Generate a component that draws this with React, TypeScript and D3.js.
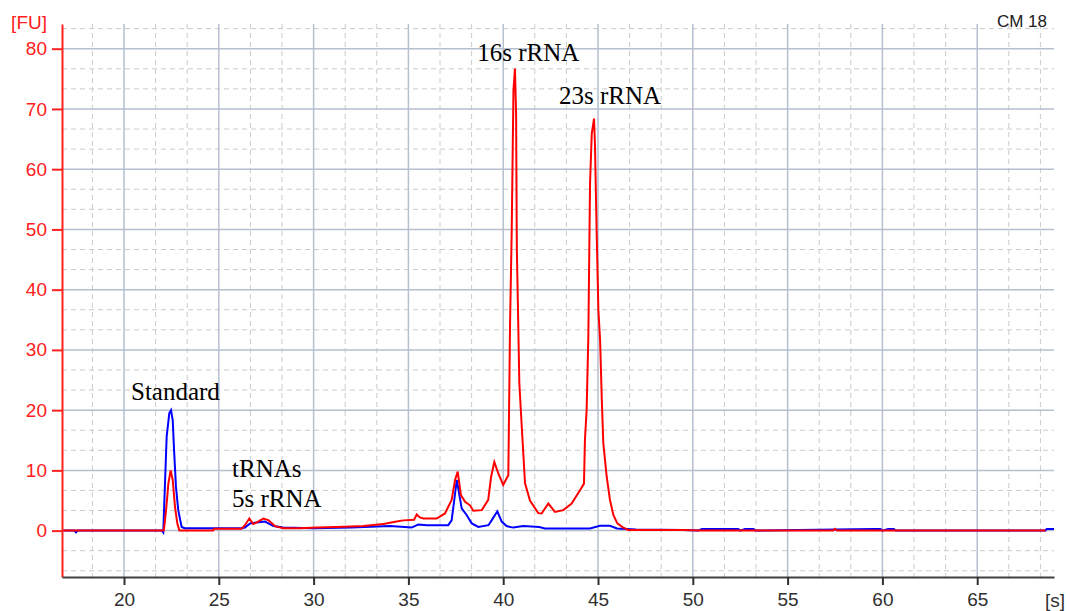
import { useEffect, useRef } from 'react';
import * as d3 from 'd3';

// electropherogram traces
const redTime = [
  16.8, 22.1, 22.22, 22.34, 22.46, 22.57, 22.69, 22.81, 22.92, 24.7, 24.75, 26.2,
  26.38, 26.61, 26.82, 26.91, 27.35, 27.61, 27.96, 28.4, 29.28, 30.16, 31.22, 32.62,
  33.68, 34.38, 34.73, 35.3, 35.44, 35.6, 35.79, 36.49, 36.93, 37.28, 37.46, 37.6,
  37.77, 37.99, 38.25, 38.42, 38.87, 39.21, 39.36, 39.53, 39.74, 40.0, 40.27, 40.36,
  40.45, 40.54, 40.62, 40.68, 40.72, 40.78, 40.85, 40.98, 41.15, 41.41, 41.85, 42.03,
  42.38, 42.73, 43.17, 43.61, 44.05, 44.26, 44.31, 44.4, 44.49, 44.58, 44.67, 44.79,
  44.84, 44.93, 45.02, 45.11, 45.2, 45.28, 45.46, 45.63, 45.81, 46.02, 46.33, 46.6,
  49.5, 50.3, 57.4, 57.5, 57.6, 68.6,
];
const redFU = [
  0, 0, 3.4, 7.8, 10, 8.4, 3.95, 1.2, 0, 0, 0.3, 0.3,
  0.9, 2.0, 1.1, 1.2, 2.0, 1.75, 0.75, 0.4, 0.4, 0.5, 0.6, 0.75,
  1.1, 1.5, 1.7, 1.8, 2.7, 2.2, 2.0, 2.0, 2.85, 5.1, 8.4, 9.8,
  5.9, 4.8, 4.2, 3.3, 3.4, 5.1, 8.9, 11.4, 9.5, 7.6, 9.2, 34,
  50, 73, 76.7, 69, 46.6, 36.6, 24.5, 17.2, 7.9, 5, 2.9, 2.85,
  4.5, 3.1, 3.4, 4.5, 6.7, 7.8, 15, 20, 32.2, 57.6, 65.9, 68.4,
  64, 49.3, 36.6, 31.6, 21.7, 14.5, 8.9, 5.1, 2.6, 1.2, 0.5, 0.1,
  0.1, 0, 0, 0.3, 0, 0,
];

const blueTime = [
  16.8, 17.4, 17.47, 17.55, 22.0, 22.07, 22.25, 22.39, 22.48, 22.57, 22.64, 22.74,
  22.86, 23.04, 23.2, 26.2, 26.38, 26.65, 27.0, 27.44, 27.88, 28.4, 30, 32,
  34.03, 35.17, 35.52, 35.97, 37.1, 37.28, 37.42, 37.55, 37.63, 37.81, 38.07, 38.34,
  38.69, 39.22, 39.39, 39.69, 39.92, 40.18, 40.53, 41.06, 41.9, 42.2, 44.58, 45.1,
  45.63, 46.0, 47.0, 49.5, 50.3, 50.47, 52.4, 52.5, 52.75, 53.2, 53.3, 59.49,
  59.9, 60.0, 60.3, 60.6, 60.7, 68.6, 68.66, 69.05,
];
const blueFU = [
  0, 0, -0.3, 0, 0, -0.3, 15.6, 19.5, 20, 18.3, 13.4, 7.3,
  3.4, 0.6, 0.4, 0.4, 0.5, 1.2, 1.35, 1.5, 0.75, 0.5, 0.4, 0.5,
  0.75, 0.5, 1.0, 0.9, 0.9, 1.7, 5.1, 8.4, 7.0, 3.7, 2.6, 1.2,
  0.6, 0.9, 1.7, 3.2, 1.5, 0.75, 0.5, 0.75, 0.6, 0.35, 0.35, 0.8,
  0.8, 0.35, 0.2, 0.1, 0, 0.25, 0.25, 0, 0.25, 0.25, 0, 0.25,
  0.25, 0, 0.25, 0.25, 0, 0, 0.25, 0.25,
];

const xTicks = [20, 25, 30, 35, 40, 45, 50, 55, 60, 65];
const yTicks = [0, 10, 20, 30, 40, 50, 60, 70, 80];

const peakLabels = [
  { text: 'Standard', t: 20.37, v: 21.6 },
  { text: '16s rRNA', t: 38.63, v: 77.9 },
  { text: '23s rRNA', t: 42.94, v: 70.9 },
  { text: 'tRNAs', t: 25.7, v: 8.9 },
  { text: '5s rRNA', t: 25.7, v: 3.9 },
];

export default function App() {
  const svgRef = useRef<SVGSVGElement>(null);

  useEffect(() => {
    if (!svgRef.current) return;
    const svg = d3.select(svgRef.current);
    svg.selectAll('*').remove();

    const margin = { top: 24, right: 16, bottom: 34, left: 62 };
    const W = 1070;
    const H = 611;
    const x = d3.scaleLinear().domain([16.73, 69.05]).range([margin.left, W - margin.right]);
    const y = d3.scaleLinear().domain([-7.7, 84.1]).range([H - margin.bottom, margin.top]);
    const [x0, x1] = x.range();
    const [y0, y1] = y.range();

    const grid = svg.append('g');

    // minor dashed grid every 5/3 s and 10/3 FU
    const minorX = d3.range(0, 60).map(i => 15 + i * 5 / 3)
      .filter(t => t > 16.8 && t < 69 && Math.abs(t / 5 - Math.round(t / 5)) > 0.01);
    const minorY = d3.range(-3, 26).map(i => i * 10 / 3)
      .filter(v => v > -7.7 && v < 84.1 && Math.abs(v / 10 - Math.round(v / 10)) > 0.01);

    grid.selectAll('.mx').data(minorX).join('line')
      .attr('x1', d => x(d)).attr('x2', d => x(d))
      .attr('y1', y1).attr('y2', y0)
      .attr('stroke', '#cbcbcb').attr('stroke-width', 1).attr('stroke-dasharray', '5,4');
    grid.selectAll('.my').data(minorY).join('line')
      .attr('x1', x0).attr('x2', x1)
      .attr('y1', d => y(d)).attr('y2', d => y(d))
      .attr('stroke', '#cbcbcb').attr('stroke-width', 1).attr('stroke-dasharray', '5,4');

    // major solid grid
    grid.selectAll('.gx').data(xTicks).join('line')
      .attr('x1', d => x(d)).attr('x2', d => x(d))
      .attr('y1', y1).attr('y2', y0)
      .attr('stroke', '#b6bfd0').attr('stroke-width', 1.5);
    grid.selectAll('.gy').data(yTicks).join('line')
      .attr('x1', x0).attr('x2', x1)
      .attr('y1', d => y(d)).attr('y2', d => y(d))
      .attr('stroke', '#b6bfd0').attr('stroke-width', 1.5);

    // traces
    const trace = (times: number[], vals: number[], color: string) => {
      const pts = times.map((t, i) => [x(t), y(vals[i])] as [number, number]);
      svg.append('path')
        .attr('d', d3.line()(pts))
        .attr('fill', 'none')
        .attr('stroke', color)
        .attr('stroke-width', 2)
        .attr('stroke-linejoin', 'miter');
    };
    trace(blueTime, blueFU, '#0000ff');
    trace(redTime, redFU, '#ff0000');

    // axes
    const yAxis = svg.append('g')
      .attr('transform', `translate(${x0},0)`)
      .call(d3.axisLeft(y).tickValues(yTicks).tickSize(10).tickSizeOuter(0).tickPadding(5));
    yAxis.select('.domain').attr('stroke', '#ff2020').attr('stroke-width', 2);
    yAxis.selectAll('.tick line').attr('stroke', '#ff2020').attr('stroke-width', 2);
    yAxis.selectAll('.tick text')
      .attr('fill', '#ff2020')
      .style('font-family', '"Liberation Sans", Arial, sans-serif')
      .style('font-size', '19px');

    const xAxis = svg.append('g')
      .attr('transform', `translate(0,${y0})`)
      .call(d3.axisBottom(x).tickValues(xTicks).tickSize(8).tickSizeOuter(0).tickPadding(8));
    xAxis.select('.domain').attr('stroke', '#404040').attr('stroke-width', 2);
    xAxis.selectAll('.tick line').attr('stroke', '#303030').attr('stroke-width', 2);
    xAxis.selectAll('.tick text')
      .attr('fill', '#303030')
      .style('font-family', '"Liberation Sans", Arial, sans-serif')
      .style('font-size', '19px');

    // unit labels
    svg.append('text')
      .attr('x', 47).attr('y', 29)
      .attr('text-anchor', 'end')
      .attr('fill', '#ff2020')
      .style('font-family', '"Liberation Sans", Arial, sans-serif')
      .style('font-size', '19px')
      .text('[FU]');
    svg.append('text')
      .attr('x', 1055).attr('y', 607)
      .attr('text-anchor', 'middle')
      .attr('fill', '#303030')
      .style('font-family', '"Liberation Sans", Arial, sans-serif')
      .style('font-size', '19px')
      .text('[s]');
    svg.append('text')
      .attr('x', 1047).attr('y', 27)
      .attr('text-anchor', 'end')
      .attr('fill', '#202020')
      .style('font-family', '"Liberation Sans", Arial, sans-serif')
      .style('font-size', '17px')
      .text('CM 18');

    // peak annotations
    svg.selectAll('.peak').data(peakLabels).join('text')
      .attr('x', d => x(d.t))
      .attr('y', d => y(d.v))
      .attr('fill', '#000')
      .style('font-family', '"Liberation Serif", "Times New Roman", serif')
      .style('font-size', '25px')
      .text(d => d.text);
  }, []);

  return (
    <svg
      ref={svgRef}
      width={1070}
      height={611}
      style={{ position: 'absolute', left: 0, top: 0, background: '#fff' }}
    />
  );
}
